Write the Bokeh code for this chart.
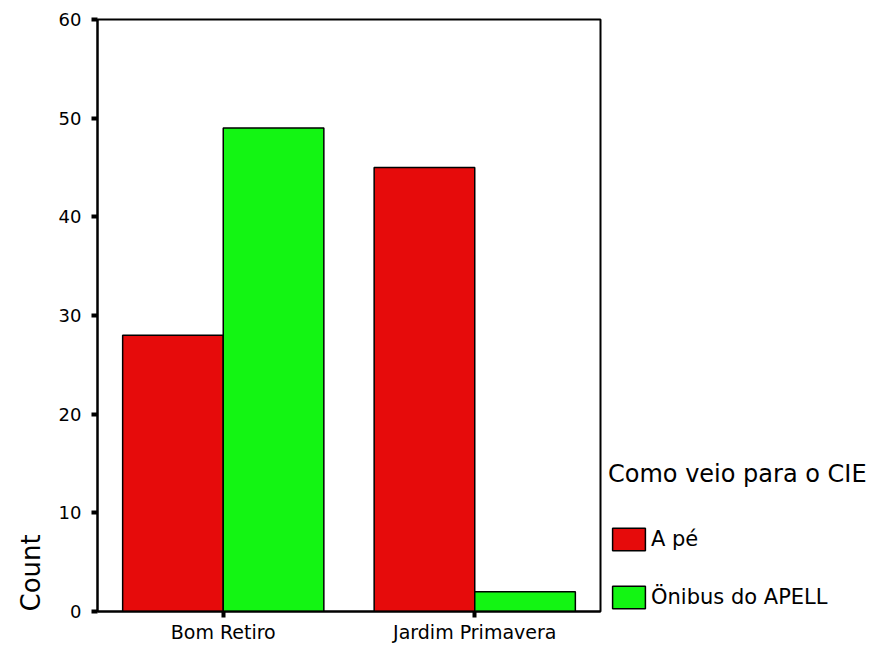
from bokeh.plotting import figure
from bokeh.models import FactorRange, Range1d, Legend, LegendItem, Title, ColumnDataSource
from bokeh.transform import dodge
from bokeh.embed import file_html
from bokeh.resources import INLINE

categories = ["Bom Retiro", "Jardim Primavera"]
a_pe = [28, 45]
onibus = [49, 2]
series_names = ["A pé", "Önibus do APELL"]
legend_title = "Como veio para o CIE"
y_label = "Count"
y_ticks = [0, 10, 20, 30, 40, 50, 60]

RED = "#E60B0B"
GREEN = "#13F513"
FONT = "DejaVu Sans"

src = ColumnDataSource(dict(cat=categories, a_pe=a_pe, onibus=onibus))

p = figure(x_range=FactorRange(*categories, range_padding=0), y_range=Range1d(0, 60),
           frame_width=503, frame_height=592, output_backend="svg", toolbar_location=None,
           min_border_left=97, min_border_top=19, min_border_right=0, min_border_bottom=0)

r1 = p.vbar(x=dodge("cat", -0.2, range=p.x_range), top="a_pe", width=0.4, source=src,
            fill_color=RED, line_color="black", line_width=1.5)
r2 = p.vbar(x=dodge("cat", 0.2, range=p.x_range), top="onibus", width=0.4, source=src,
            fill_color=GREEN, line_color="black", line_width=1.5)

p.xgrid.visible = False
p.ygrid.visible = False
p.outline_line_color = "black"
p.outline_line_width = 2
p.background_fill_color = "white"
p.border_fill_color = "white"

for ax in (p.xaxis[0], p.yaxis[0]):
    ax.axis_line_width = 2
    ax.axis_line_color = "black"
    ax.major_tick_line_width = 4
    ax.major_tick_line_color = "black"
    ax.major_tick_out = 6
    ax.major_tick_in = 0
    ax.minor_tick_line_color = None
    ax.major_label_text_font = FONT
    ax.major_label_text_color = "black"

p.yaxis.ticker = y_ticks
p.yaxis.major_label_text_font_size = "18px"
p.yaxis.major_label_standoff = 10
p.xaxis.major_label_text_font_size = "19px"
p.xaxis.major_label_standoff = 3

p.add_layout(Title(text=y_label, align="left", text_font_size="26px", text_font_style="normal",
                   text_font=FONT, text_color="black", standoff=20), "left")

legend = Legend(items=[LegendItem(label=series_names[0], renderers=[r1]),
                       LegendItem(label=series_names[1], renderers=[r2])],
                location=(8, 0), orientation="vertical")
legend.title = legend_title
legend.title_text_font = FONT
legend.title_text_font_size = "24px"
legend.title_text_font_style = "normal"
legend.title_text_color = "black"
legend.title_standoff = 37
legend.label_text_font = FONT
legend.label_text_font_size = "21px"
legend.label_text_color = "black"
legend.glyph_width = 41
legend.glyph_height = 28
legend.label_standoff = 2
legend.spacing = 30
legend.padding = 2
legend.margin = 0
legend.border_line_color = None
legend.background_fill_alpha = 0
p.add_layout(legend, "right")

open("out.html", "w").write(file_html(p, INLINE))
